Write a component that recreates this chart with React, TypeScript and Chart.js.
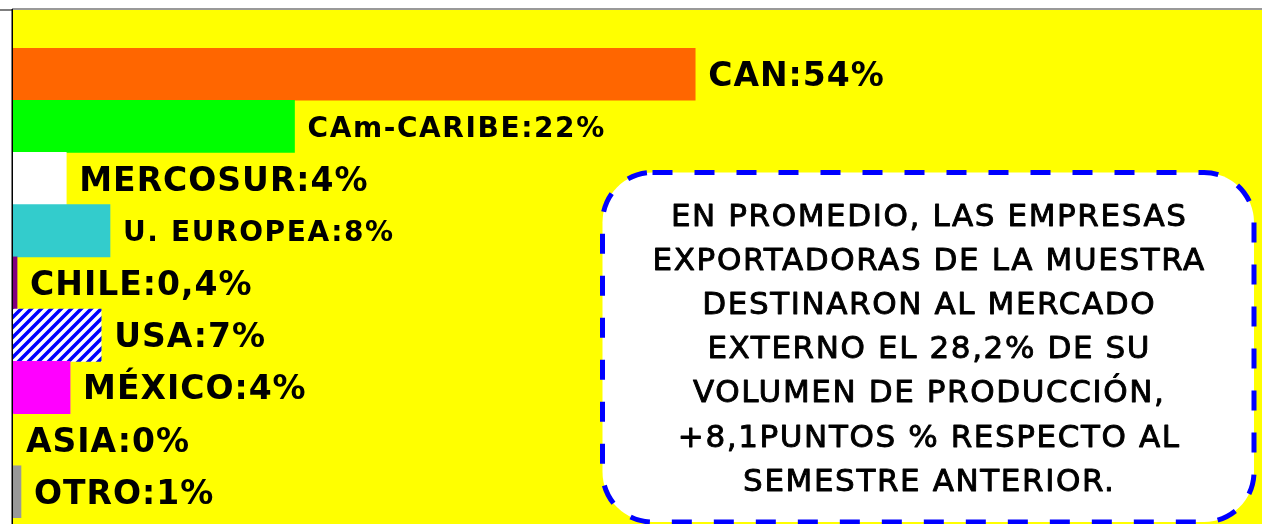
import React, { useEffect, useRef } from "react";
import { Chart, registerables } from "chart.js";

Chart.register(...registerables);

const categories = ["CAN", "CAm-CARIBE", "MERCOSUR", "U. EUROPEA", "CHILE", "USA", "MÉXICO", "ASIA", "OTRO"];
const values = [53.8, 22.2, 4.2, 7.65, 0.32, 6.95, 4.5, 0, 0.63];
const valueLabels = ["54%", "22%", "4%", "8%", "0,4%", "7%", "4%", "0%", "1%"];
const barColors = ["#FF6600", "#00FF00", "#FFFFFF", "#33CCCC", "#800080", "HATCH", "#FF00FF", "#FFFF00", "#999999"];
const smallLabel = [false, true, false, true, false, false, false, false, false];
const xMax = 98.5;

const noteLines = [
  "EN PROMEDIO, LAS EMPRESAS",
  "EXPORTADORAS DE LA MUESTRA",
  "DESTINARON AL MERCADO",
  "EXTERNO EL 28,2% DE SU",
  "VOLUMEN DE PRODUCCIÓN,",
  "+8,1PUNTOS % RESPECTO AL",
  "SEMESTRE ANTERIOR.",
];

function makeHatch(ctx: CanvasRenderingContext2D): CanvasPattern | string {
  const s = 10;
  const c = document.createElement("canvas");
  c.width = s;
  c.height = s;
  const g = c.getContext("2d");
  if (!g) return "#0000FF";
  g.fillStyle = "#FFFFFF";
  g.fillRect(0, 0, s, s);
  g.strokeStyle = "#0000FF";
  g.lineWidth = 3.5;
  g.beginPath();
  g.moveTo(-2, s + 2);
  g.lineTo(s + 2, -2);
  g.moveTo(-2 - s, s + 2);
  g.lineTo(2, -2);
  g.moveTo(s - 2, s + 2);
  g.lineTo(2 * s + 2, -2);
  g.stroke();
  return ctx.createPattern(c, "repeat") || "#0000FF";
}

function roundRect(ctx: CanvasRenderingContext2D, x: number, y: number, w: number, h: number, r: number) {
  ctx.beginPath();
  ctx.moveTo(x + r, y);
  ctx.lineTo(x + w - r, y);
  ctx.arcTo(x + w, y, x + w, y + r, r);
  ctx.lineTo(x + w, y + h - r);
  ctx.arcTo(x + w, y + h, x + w - r, y + h, r);
  ctx.lineTo(x + r, y + h);
  ctx.arcTo(x, y + h, x, y + h - r, r);
  ctx.lineTo(x, y + r);
  ctx.arcTo(x, y, x + r, y, r);
  ctx.closePath();
}

const backgroundPlugin = {
  id: "bgFrame",
  beforeDraw(chart: any) {
    const { ctx, chartArea, width, height } = chart;
    ctx.save();
    ctx.fillStyle = "#FFFF00";
    ctx.fillRect(chartArea.left, 10, width - chartArea.left, height - 10);
    ctx.fillStyle = "#999999";
    ctx.fillRect(chartArea.left - 1, 8, width, 2);
    ctx.fillStyle = "#000000";
    ctx.fillRect(chartArea.left - 1.5, 9, 1.5, height);
    ctx.fillRect(0, 9.5, chartArea.left - 1, 1);
    ctx.restore();
  },
};

const labelsPlugin = {
  id: "barLabels",
  afterDatasetsDraw(chart: any) {
    const { ctx } = chart;
    const meta = chart.getDatasetMeta(0);
    ctx.save();
    meta.data.forEach((bar: any, i: number) => {
      const size = smallLabel[i] ? 28 : 33;
      ctx.font = `bold ${size}px "DejaVu Sans"`;
      (ctx as any).letterSpacing = smallLabel[i] ? "1.6px" : "1px";
      ctx.fillStyle = "#000000";
      ctx.textAlign = "left";
      ctx.textBaseline = "alphabetic";
      const cap = size * 0.729;
      ctx.fillText(`${categories[i]}:${valueLabels[i]}`, bar.x + 13, bar.y + cap / 2);
    });
    ctx.restore();
  },
};

const notePlugin = {
  id: "noteBox",
  afterDraw(chart: any) {
    const { ctx } = chart;
    ctx.save();
    const x = 602.5, y = 172.5, w = 651.5, h = 349.5, r = 50;
    roundRect(ctx, x, y, w, h, r);
    ctx.fillStyle = "#FFFFFF";
    ctx.fill();
    ctx.setLineDash([20, 22]);
    ctx.lineWidth = 5;
    ctx.strokeStyle = "#0000FF";
    ctx.stroke();
    ctx.setLineDash([]);
    ctx.fillStyle = "#000000";
    ctx.strokeStyle = "#000000";
    ctx.lineWidth = 0.9;
    ctx.lineJoin = "round";
    ctx.font = `31px "DejaVu Sans"`;
    (ctx as any).letterSpacing = "1.6px";
    ctx.textAlign = "center";
    ctx.textBaseline = "alphabetic";
    noteLines.forEach((line, i) => {
      const ty = 225.5 + i * 44.2;
      ctx.fillText(line, x + w / 2 + 1, ty);
      ctx.strokeText(line, x + w / 2 + 1, ty);
    });
    ctx.restore();
  },
};

export default function App() {
  const ref = useRef<HTMLCanvasElement | null>(null);

  useEffect(() => {
    const canvas = ref.current;
    if (!canvas) return;
    const ctx = canvas.getContext("2d");
    if (!ctx) return;
    const hatch = makeHatch(ctx);
    const colors = barColors.map((c) => (c === "HATCH" ? hatch : c));
    const chart = new Chart(canvas, {
      type: "bar",
      data: {
        labels: categories,
        datasets: [
          {
            data: values,
            backgroundColor: colors as any,
            borderWidth: 0,
            barPercentage: 1,
            categoryPercentage: 1,
          },
        ],
      },
      options: {
        indexAxis: "y",
        responsive: false,
        animation: false,
        devicePixelRatio: 1,
        layout: { padding: { left: 13, right: 0, top: 48, bottom: 6 } },
        plugins: { legend: { display: false }, tooltip: { enabled: false } },
        scales: {
          x: { display: false, min: 0, max: xMax },
          y: { display: false, offset: true },
        },
      },
      plugins: [backgroundPlugin, labelsPlugin, notePlugin],
    });
    return () => chart.destroy();
  }, []);

  return (
    <div style={{ position: "absolute", left: 0, top: 0, width: 1262, height: 524 }}>
      <canvas ref={ref} width={1262} height={524} style={{ display: "block" }} />
    </div>
  );
}
